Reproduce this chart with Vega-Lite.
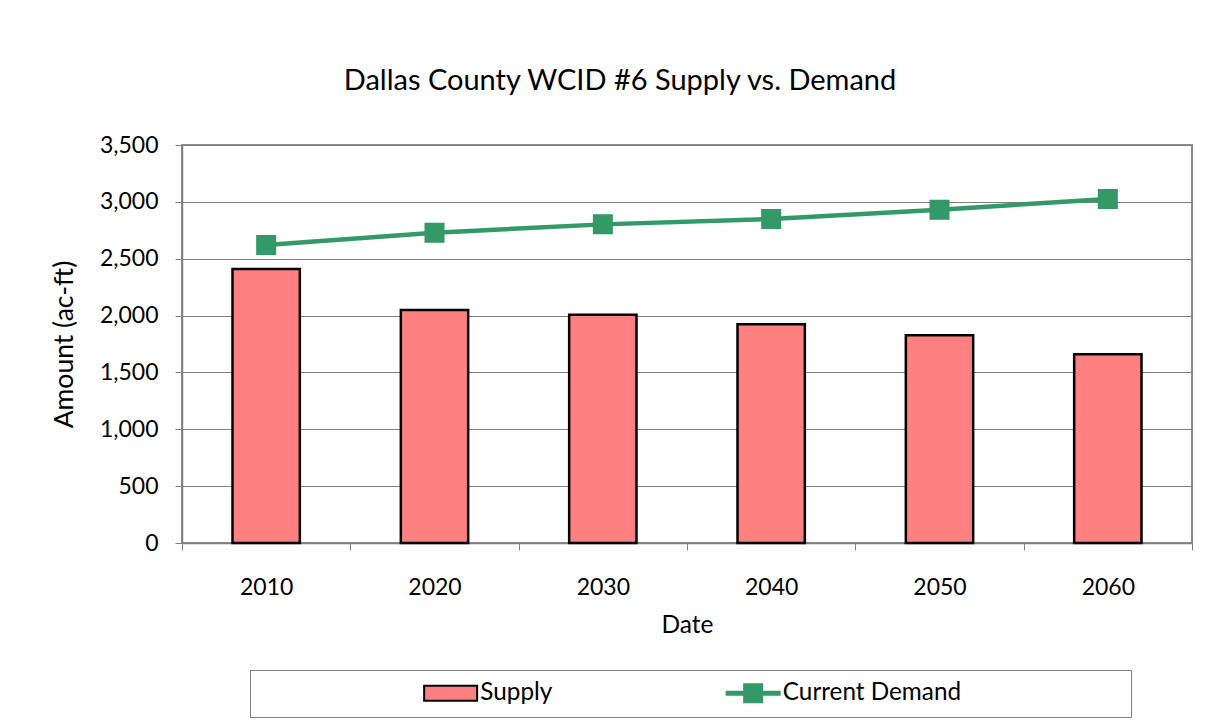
{
  "$schema": "https://vega.github.io/schema/vega-lite/v6.json",
  "width": 1010,
  "height": 398,
  "autosize": {"type": "none"},
  "padding": {"left": 182, "top": 145, "right": 27, "bottom": 182},
  "background": "#ffffff",
  "title": {
    "text": "Dallas County WCID #6 Supply vs. Demand",
    "font": "Lato", "fontSize": 29, "fontWeight": "normal", "color": "#000000",
    "anchor": "middle", "frame": "group", "dx": -67, "offset": 15, "baseline": "alphabetic"
  },
  "data": {"values": [
    {"Date": "2010", "Supply": 2410, "Demand": 2620},
    {"Date": "2020", "Supply": 2049, "Demand": 2729},
    {"Date": "2030", "Supply": 2007, "Demand": 2802},
    {"Date": "2040", "Supply": 1924, "Demand": 2849},
    {"Date": "2050", "Supply": 1827, "Demand": 2931},
    {"Date": "2060", "Supply": 1660, "Demand": 3025}
  ]},
  "encoding": {
    "x": {
      "field": "Date", "type": "nominal",
      "scale": {"paddingInner": 0, "paddingOuter": 0},
      "axis": {"title": "Date", "labelAngle": 0, "tickBand": "extent", "labelPadding": 26, "titlePadding": 14, "titleFontSize": 24.5, "grid": false}
    }
  },
  "layer": [
    {
      "mark": {"type": "bar", "width": {"band": 0.4}, "stroke": "#000000", "strokeWidth": 2.5},
      "encoding": {
        "y": {
          "field": "Supply", "type": "quantitative",
          "scale": {"domain": [0, 3500]},
          "axis": {"title": "Amount (ac-ft)", "values": [0, 500, 1000, 1500, 2000, 2500, 3000, 3500], "format": ",.0f", "labelPadding": 17, "titlePadding": 21, "titleFontSize": 26.5, "grid": true}
        },
        "fill": {
          "datum": "Supply",
          "scale": {"domain": ["Supply"], "range": ["#FF8080"]},
          "legend": {
            "orient": "none", "legendX": 68, "legendY": 525, "direction": "horizontal",
            "title": "\u00a0", "titleOrient": "left", "titleFontSize": 1, "titlePadding": 177.5,
            "padding": 11, "strokeColor": "#808080",
            "labelFont": "Lato", "labelFontSize": 24.3, "labelColor": "#000000", "labelLimit": 500,
            "labelOffset": 17.5, "symbolSize": 400,
            "symbolType": "M-2.65,-0.75H2.65V0.75H-2.65ZM66.45,0",
            "symbolStrokeColor": "#000000", "symbolStrokeWidth": 2
          }
        }
      }
    },
    {
      "mark": {"type": "line", "strokeWidth": 4.5, "point": {"shape": "square", "size": 324, "filled": true, "fill": "#339966", "opacity": 1}},
      "encoding": {
        "y": {
          "field": "Demand", "type": "quantitative",
          "axis": {"title": "Amount (ac-ft)", "values": [0, 500, 1000, 1500, 2000, 2500, 3000, 3500], "format": ",.0f", "labelPadding": 17, "titlePadding": 21, "titleFontSize": 26.5, "grid": true}
        },
        "stroke": {
          "datum": "Current Demand",
          "scale": {"domain": ["Current Demand"], "range": ["#339966"]},
          "legend": {
            "orient": "none", "legendX": 548, "legendY": 525, "direction": "horizontal",
            "title": null, "padding": 11,
            "labelFont": "Lato", "labelFontSize": 24.3, "labelColor": "#000000", "labelLimit": 500,
            "labelOffset": 17.5, "symbolSize": 400,
            "symbolType": "M-2.75,-0.25H-1V-1H1V-0.25H2.75V0.25H1V1H-1V0.25H-2.75Z",
            "symbolFillColor": "#339966", "symbolStrokeWidth": 0
          }
        }
      }
    }
  ],
  "config": {
    "view": {"stroke": "#8c8c8c", "strokeWidth": 2},
    "axis": {
      "labelFont": "Lato", "labelFontSize": 23, "labelColor": "#000000",
      "titleFont": "Lato", "titleFontSize": 23, "titleFontWeight": "normal", "titleColor": "#000000",
      "domainColor": "#7f7f7f", "domainWidth": 1.5, "tickColor": "#7f7f7f", "tickWidth": 1, "tickSize": 7,
      "gridColor": "#7f7f7f", "gridWidth": 1
    }
  }
}
